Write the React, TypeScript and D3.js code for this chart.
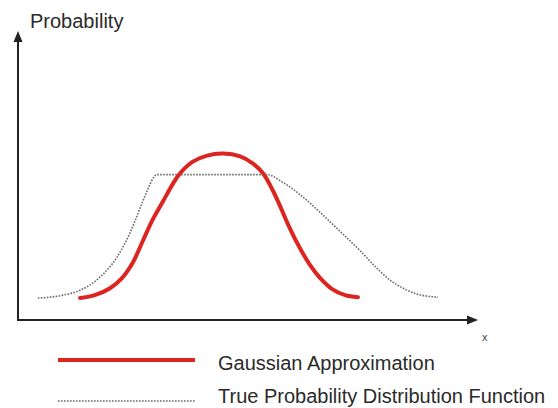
import * as d3 from 'd3'

const WIDTH = 558
const HEIGHT = 408
const MARGIN = { top: 31, right: 80, bottom: 88, left: 18 }

// x and y in arbitrary units (0..100)
const gaussX = [13.5, 16.7, 20.0, 22.6, 25.0, 27.2, 29.3, 31.5, 33.7, 35.2, 38.0, 41.1, 44.6, 48.3, 51.1, 53.3, 55.4, 57.0, 59.1, 61.3, 63.5, 65.7, 68.3, 71.1, 73.9]
const gaussY = [7.6, 8.6, 11.0, 14.5, 20.0, 27.6, 34.8, 41.0, 47.2, 50.7, 54.8, 56.9, 57.6, 56.6, 54.1, 50.7, 44.8, 39.3, 31.7, 24.8, 19.0, 14.5, 10.7, 8.6, 7.9]

const trueX = [4.3, 7.0, 9.8, 13.5, 17.8, 21.5, 24.3, 26.1, 27.2, 28.3, 29.1, 30.2, 41.7, 54.1, 57.6, 61.3, 65.7, 70.0, 74.3, 77.6, 80.9, 84.1, 86.7, 91.3]
const trueY = [7.6, 7.9, 8.6, 10.3, 14.8, 21.7, 30.0, 36.9, 41.4, 45.5, 48.3, 50.3, 50.3, 50.3, 47.6, 43.4, 37.2, 30.7, 24.1, 18.6, 13.8, 10.7, 9.0, 7.9]

const legendLabels = ['Gaussian Approximation', 'True Probability Distribution Function']

const FONT = '"Liberation Sans", Arial, sans-serif'
const RED = '#dc2420'
const GRAY = '#6a6a6a'

export default function App() {
  const innerWidth = WIDTH - MARGIN.left - MARGIN.right
  const innerHeight = HEIGHT - MARGIN.top - MARGIN.bottom

  const x = d3.scaleLinear().domain([0, 100]).range([MARGIN.left, MARGIN.left + innerWidth])
  const y = d3.scaleLinear().domain([0, 100]).range([MARGIN.top + innerHeight, MARGIN.top])

  // smooth through the read points for the gaussian, monotone (flat top) for the true pdf
  const smooth = d3.line<[number, number]>()
    .x(d => x(d[0]))
    .y(d => y(d[1]))
    .curve(d3.curveCatmullRom.alpha(0.5))
  const monotone = d3.line<[number, number]>()
    .x(d => x(d[0]))
    .y(d => y(d[1]))
    .curve(d3.curveMonotoneX)

  const gauss = gaussX.map((v, i) => [v, gaussY[i]] as [number, number])
  const truePdf = trueX.map((v, i) => [v, trueY[i]] as [number, number])

  const x0 = x(0)
  const y0 = y(0)
  const xEnd = x(100)
  const yEnd = y(100)

  return (
    <svg width={WIDTH} height={HEIGHT} style={{ position: 'absolute', left: 0, top: 0, background: '#fff' }}>
      {/* axes */}
      <line x1={x0} y1={y0} x2={xEnd - 8} y2={y0} stroke="#222" strokeWidth={2} />
      <path d={`M${xEnd},${y0} L${xEnd - 11},${y0 - 4.5} L${xEnd - 11},${y0 + 4.5} Z`} fill="#222" />
      <line x1={x0} y1={y0 + 1} x2={x0} y2={yEnd + 8} stroke="#222" strokeWidth={2} />
      <path d={`M${x0},${yEnd} L${x0 - 4.5},${yEnd + 11} L${x0 + 4.5},${yEnd + 11} Z`} fill="#222" />

      <text x={30} y={28} fontFamily={FONT} fontSize={20} fill="#2a2a2a">Probability</text>
      <text x={xEnd + 4} y={y0 + 21} fontFamily={FONT} fontSize={11} fill="#444">x</text>

      {/* curves */}
      <path d={monotone(truePdf) || ''} fill="none" stroke={GRAY} strokeWidth={1.6} strokeDasharray="1.6,1.4" />
      <path d={smooth(gauss) || ''} fill="none" stroke={RED} strokeWidth={4} strokeLinecap="round" />

      {/* legend */}
      <line x1={58} y1={360} x2={195} y2={360} stroke={RED} strokeWidth={4} />
      <text x={218} y={370} fontFamily={FONT} fontSize={20} fill="#2a2a2a">{legendLabels[0]}</text>
      <line x1={58} y1={401} x2={195} y2={401} stroke={GRAY} strokeWidth={1.6} strokeDasharray="1.6,1.4" />
      <text x={218} y={403} fontFamily={FONT} fontSize={20} fill="#2a2a2a">{legendLabels[1]}</text>
    </svg>
  )
}
